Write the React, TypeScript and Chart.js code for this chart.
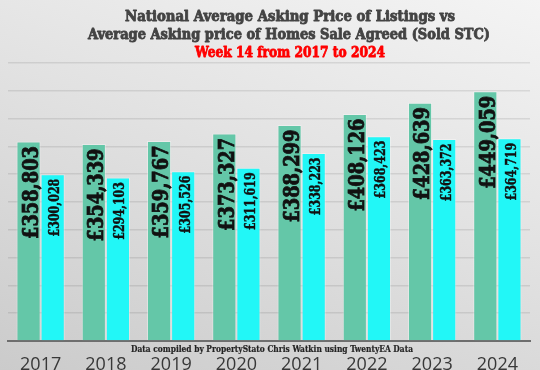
import React, { useEffect, useRef } from "react";
import { Chart, registerables } from "chart.js";

Chart.register(...registerables);

const categories = ["2017", "2018", "2019", "2020", "2021", "2022", "2023", "2024"];
const listingPrices = [358803, 354339, 359767, 373327, 388299, 408126, 428639, 449059];
const soldStcPrices = [300028, 294103, 305526, 311619, 338223, 368423, 363372, 364719];
const titleLines = [
  "National Average Asking Price of Listings vs",
  "Average Asking price of Homes Sale Agreed (Sold STC)",
];
const subtitleText = "Week 14 from 2017 to 2024";
const noteText = "Data compiled by PropertyStato Chris Watkin using TwentyEA Data";

const SLAB = '"DejaVu Serif Condensed", "DejaVu Serif", serif';

const fmt = (v: number) => "£" + v.toLocaleString("en-GB");

function drawFitted(ctx: any, text: string, x: number, y: number, width: number, stroke: number) {
  const w = ctx.measureText(text).width;
  const s = Math.min(1.2, width / w);
  ctx.save();
  ctx.translate(x, y);
  ctx.scale(s, 1);
  if (stroke > 0) {
    ctx.lineWidth = stroke;
    ctx.strokeStyle = ctx.fillStyle;
    ctx.lineJoin = "round";
    ctx.strokeText(text, 0, 0);
  }
  ctx.fillText(text, 0, 0);
  ctx.restore();
}

const labelPlugin = {
  id: "barLabels",
  afterDatasetsDraw(chart: any) {
    const ctx = chart.ctx;
    chart.data.datasets.forEach((ds: any, di: number) => {
      const meta = chart.getDatasetMeta(di);
      const size = di === 0 ? 22 : 14;
      const squeeze = di === 0 ? 0.9 : 0.88;
      meta.data.forEach((el: any, i: number) => {
        ctx.save();
        ctx.translate(el.x, el.y + 4.5);
        ctx.rotate(-Math.PI / 2);
        ctx.scale(squeeze, 1);
        ctx.font = `bold ${size}px ${SLAB}`;
        ctx.fillStyle = "#111";
        ctx.strokeStyle = "#111";
        ctx.lineWidth = di === 0 ? 0.8 : 0.4;
        ctx.textAlign = "right";
        ctx.textBaseline = "alphabetic";
        const yOff = size * 0.36 + 1.5;
        ctx.strokeText(fmt(ds.data[i]), 0, yOff);
        ctx.fillText(fmt(ds.data[i]), 0, yOff);
        ctx.restore();
      });
    });
  },
};

const textPlugin = {
  id: "titleAndNote",
  afterDraw(chart: any) {
    const ctx = chart.ctx;
    ctx.save();
    ctx.textAlign = "center";
    ctx.textBaseline = "middle";
    ctx.font = `bold 15px ${SLAB}`;
    ctx.fillStyle = "#434343";
    drawFitted(ctx, titleLines[0], 290, 17, 330, 0.8);
    drawFitted(ctx, titleLines[1], 289, 35, 402, 0.8);
    ctx.fillStyle = "#ff0000";
    drawFitted(ctx, subtitleText, 290, 53, 190, 0.8);
    ctx.font = `bold 10px ${SLAB}`;
    ctx.fillStyle = "#222";
    const xs = chart.scales.x;
    drawFitted(ctx, noteText, 272, xs.top + 8, 282, 0.2);
    ctx.restore();
  },
};

export default function App() {
  const ref = useRef<HTMLCanvasElement>(null);
  useEffect(() => {
    const chart = new Chart(ref.current!, {
      type: "bar",
      data: {
        labels: categories,
        datasets: [
          {
            label: "Listings",
            data: listingPrices,
            backgroundColor: "#64c7a8",
            borderColor: "rgba(255,255,255,0.35)",
            borderWidth: 1,
            categoryPercentage: 0.74,
            barPercentage: 1.0,
          },
          {
            label: "Sold STC",
            data: soldStcPrices,
            backgroundColor: "#22f7f7",
            borderColor: "rgba(255,255,255,0.35)",
            borderWidth: 1,
            categoryPercentage: 0.74,
            barPercentage: 1.0,
          },
        ],
      },
      options: {
        responsive: false,
        animation: false,
        layout: { padding: { left: 8, right: 10, top: 63, bottom: 0 } },
        plugins: {
          legend: { display: false },
          title: { display: false },
          tooltip: { enabled: false },
        },
        scales: {
          x: {
            grid: { display: false, drawTicks: false },
            border: { display: true, color: "#6e6e6e", width: 2 },
            ticks: {
              color: "#383838",
              font: { family: '"Open Sans", sans-serif', size: 18 },
              padding: 13,
              maxRotation: 0,
            },
            afterFit: (s: any) => {
              s.height = 29;
            },
          },
          y: {
            min: 0,
            max: 500000,
            ticks: { display: false, stepSize: 50000 },
            border: { display: false },
            grid: { color: "rgba(0,0,0,0.09)", lineWidth: 1.5, drawTicks: false },
            afterFit: (s: any) => {
              s.width = 0;
            },
          },
        },
      },
      plugins: [labelPlugin, textPlugin],
    });
    return () => chart.destroy();
  }, []);
  return (
    <div
      style={{
        position: "fixed",
        left: 0,
        top: 0,
        width: 540,
        height: 370,
        overflow: "hidden",
        background: "linear-gradient(200deg, #f4f4f4 0%, #e2e2e2 45%, #cbcbcb 100%)",
      }}
    >
      <canvas ref={ref} width={540} height={370} />
    </div>
  );
}
